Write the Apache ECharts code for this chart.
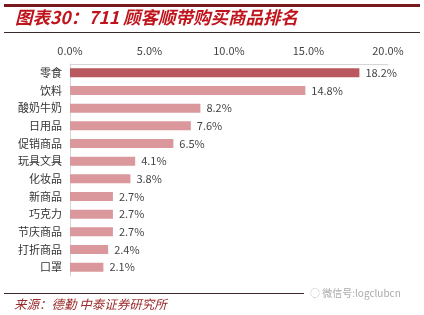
<!DOCTYPE html>
<html><head><meta charset="utf-8">
<script src="https://cdn.jsdelivr.net/npm/echarts@6/dist/echarts.min.js"></script>
<style>html,body{margin:0;padding:0;background:#fff}#c{width:424px;height:315px}</style>
</head><body><div id="c"></div>
<script>
const categories = ['零食','饮料','酸奶牛奶','日用品','促销商品','玩具文具','化妆品','新商品','巧克力','节庆商品','打折商品','口罩'];
const values = [18.2,14.8,8.2,7.6,6.5,4.1,3.8,2.7,2.7,2.7,2.4,2.1];
const ticks = ['0.0%','5.0%','10.0%','15.0%','20.0%'];
const titleText = '图表30：711 顾客顺带购买商品排名';
const sourceText = '来源：德勤 中泰证券研究所';
const watermark = '微信号:logclubcn';

const chart = echarts.init(document.getElementById('c'));
const font = '"Noto Sans CJK SC", "Noto Sans", sans-serif';
chart.setOption({
  animation:false,
  textStyle:{fontFamily:font},
  grid:{left:70,right:36,top:64,height:212,containLabel:false},
  xAxis:{type:'value',position:'top',min:0,max:20,interval:5,
    axisLine:{show:true,lineStyle:{color:'#d6d6d6'}},
    axisTick:{show:false},splitLine:{show:false},
    axisLabel:{color:'#444',fontSize:11,margin:8,formatter:(v)=>ticks[Math.round(v/5)]}},
  yAxis:{type:'category',inverse:true,data:categories,
    axisLine:{show:true,lineStyle:{color:'#d6d6d6'}},axisTick:{show:false},
    axisLabel:{color:'#333',fontSize:11,margin:8}},
  series:[{type:'bar',barWidth:9,
    data:values.map((v,i)=>({value:v,itemStyle:{color:i===0?'#B9585E':'#DA989C'}})),
    label:{show:true,position:'right',distance:6,color:'#444',fontSize:11,formatter:(p)=>p.value.toFixed(1)+'%'}}],
  graphic:[
    {type:'rect',shape:{x:4,y:4,width:416,height:3},style:{fill:'#7A1A1F'}},
    {type:'text',left:15,top:9,style:{text:titleText,font:'italic bold 17.5px '+font,fill:'#C0141C'}},
    {type:'rect',shape:{x:4,y:32,width:416,height:1},style:{fill:'#3a2a2a'}},
    {type:'rect',shape:{x:4,y:293,width:300,height:1},style:{fill:'#3a2a2a'}},
    {type:'text',left:14,top:298,style:{text:sourceText,font:'italic 12.5px '+font,fill:'#9B2A2A'}},
    {type:'text',left:310,top:288,style:{text:'◌ '+watermark,font:'10px '+font,fill:'#aaaaaa'}}
  ]
});
</script></body></html>
